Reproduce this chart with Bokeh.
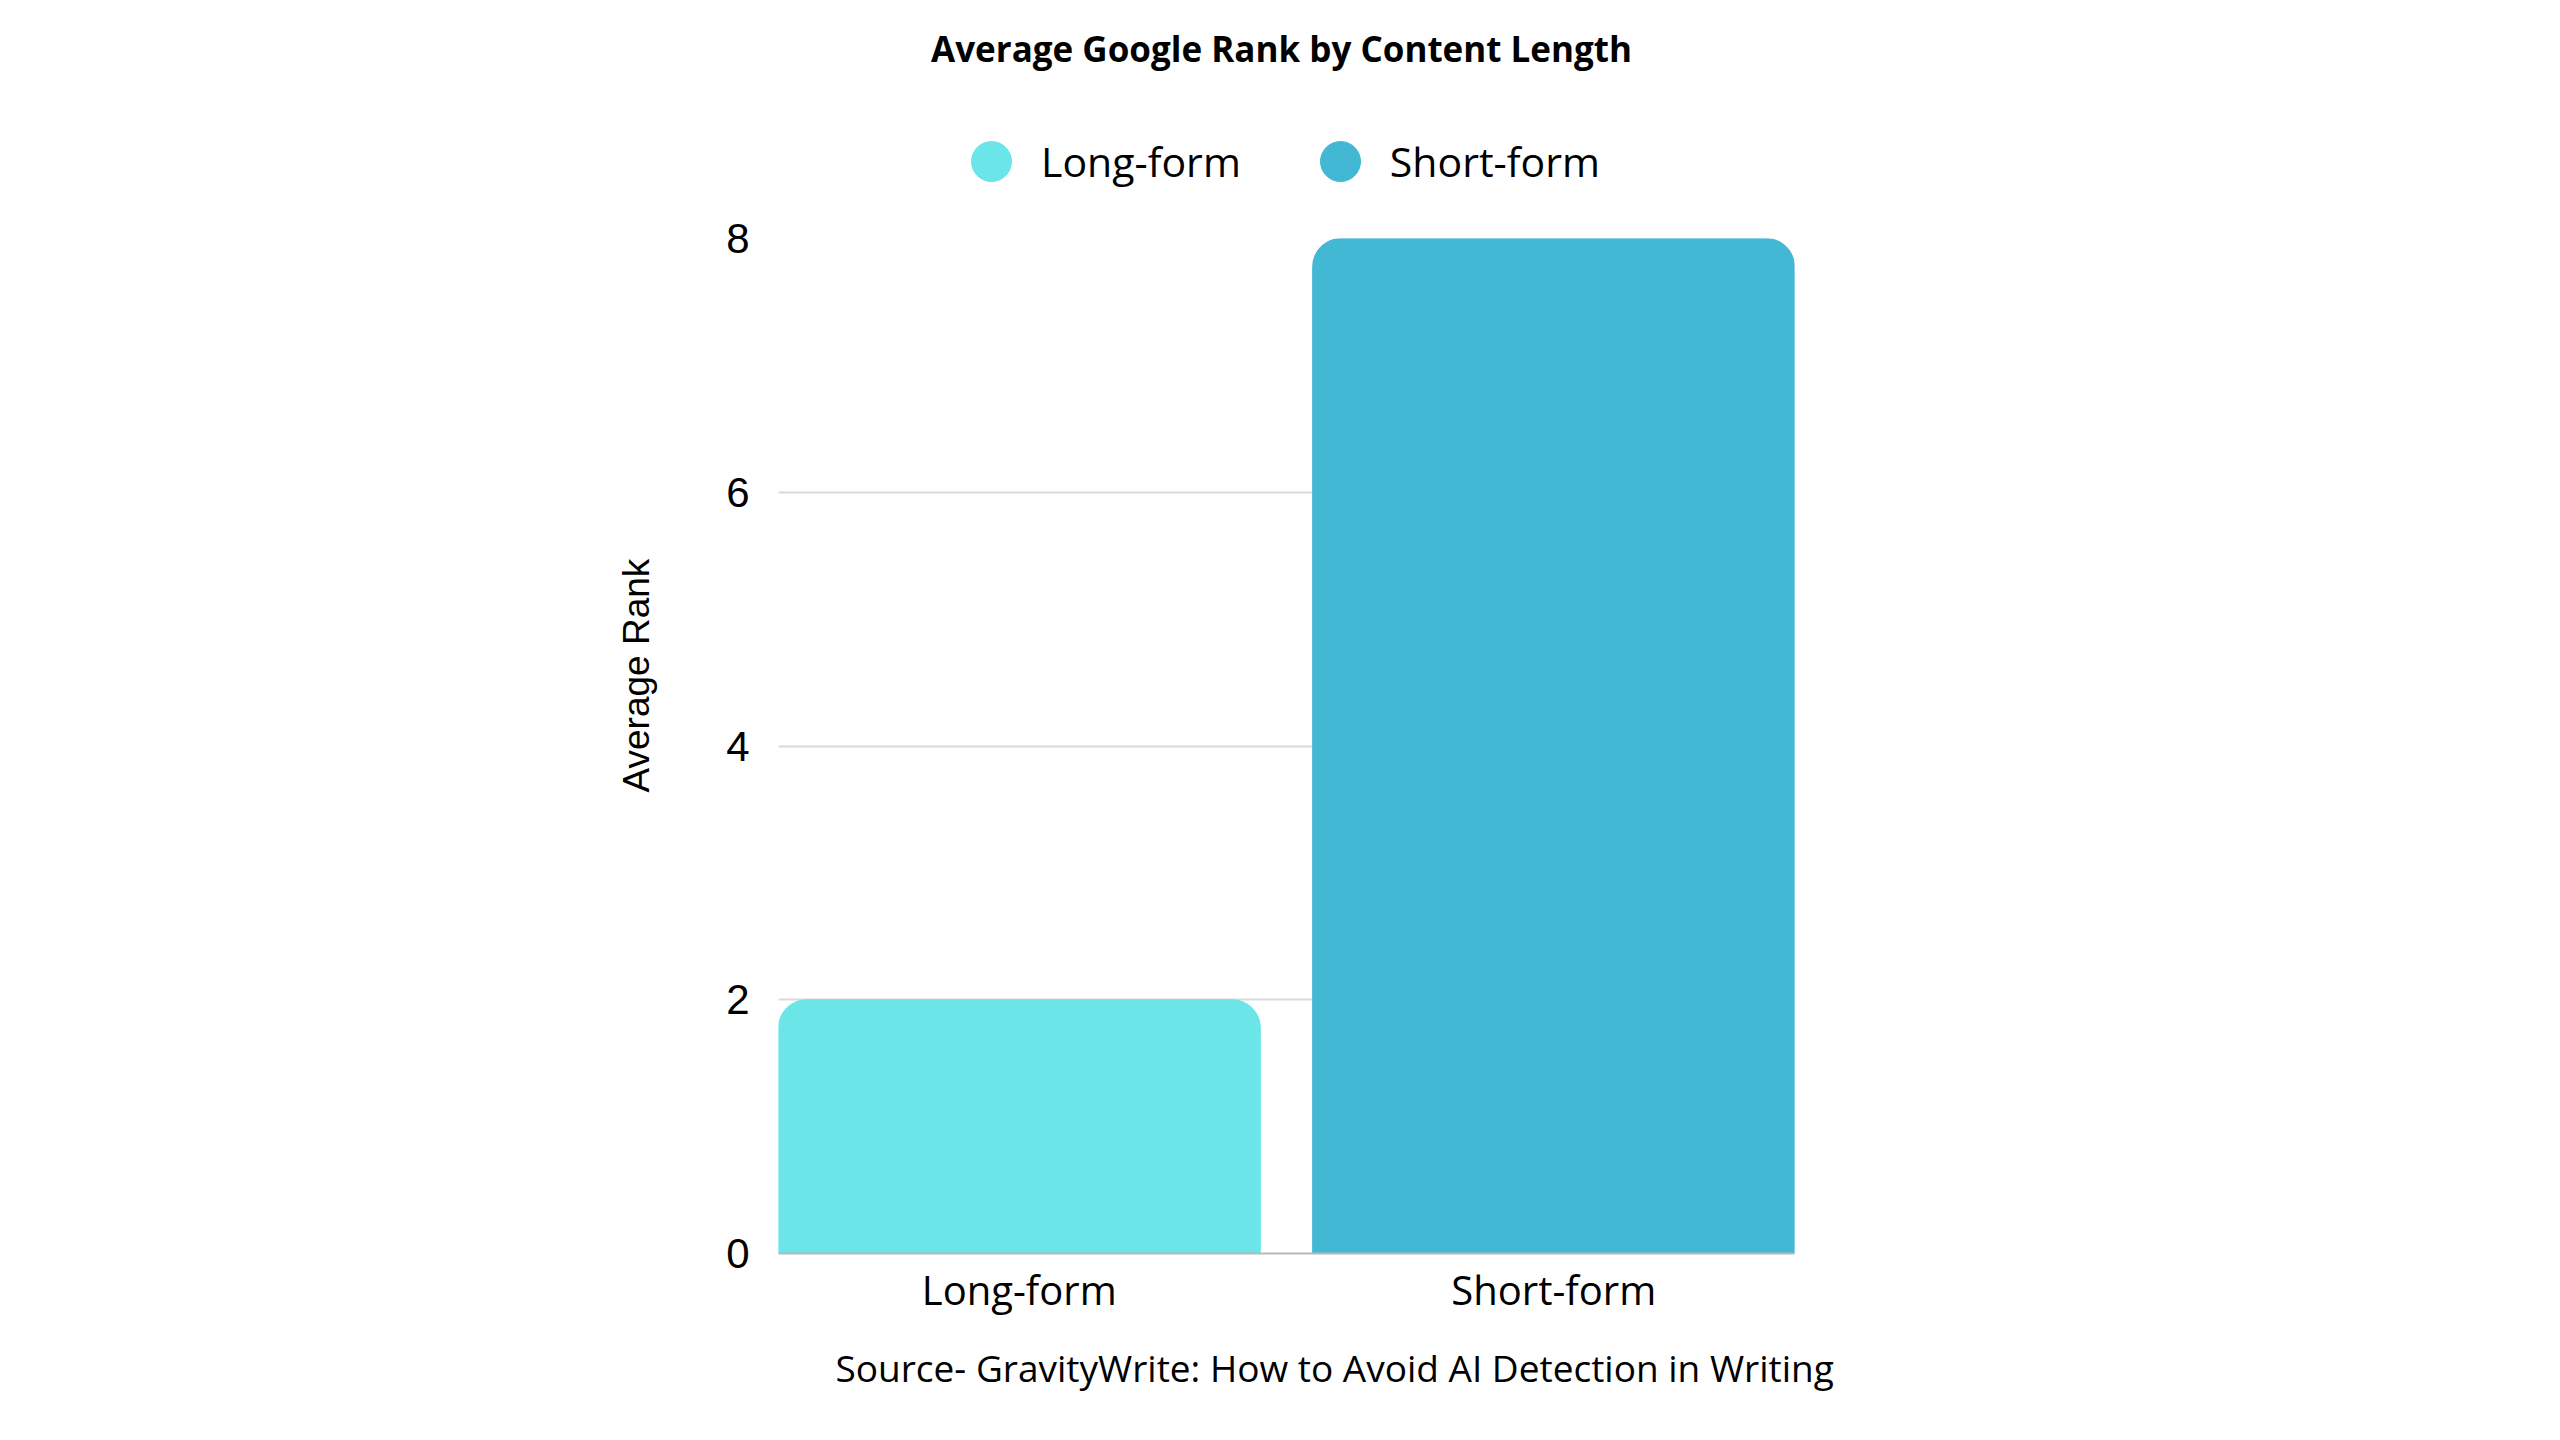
from bokeh.plotting import figure
from bokeh.layouts import column
from bokeh.models import (ColumnDataSource, FactorRange, Range1d, FixedTicker,
                          Legend, LegendItem, Label, Title)
from bokeh.embed import file_html
from bokeh.resources import INLINE

# ---- data ----
categories = ["Long-form", "Short-form"]
avg_rank = [2, 8]
bar_colors = ["#6BE5E8", "#42B8D5"]
y_ticks = [0, 2, 4, 6, 8]

title_text = "Average Google Rank by Content Length"
y_label = "Average Rank"
source_text = "Source- GravityWrite: How to Avoid AI Detection in Writing"

src = ColumnDataSource(dict(cat=categories, rank=avg_rank, color=bar_colors))

# ---------- header: title + legend (frame is aligned with the chart frame) ----------
header = figure(
    x_range=FactorRange(factors=categories),
    y_range=Range1d(min(y_ticks), max(y_ticks)),
    width=2544, height=212, min_border=0,
    x_axis_location=None, y_axis_location=None,
    output_backend="svg", toolbar_location=None,
)
header.outline_line_color = None
header.grid.grid_line_color = None
header.background_fill_color = "white"
header.border_fill_color = "white"

legend_r = header.scatter(x="cat", y="rank", size=40, color="color",
                          source=src, visible=False)

legend = Legend(
    items=[LegendItem(label=c, renderers=[legend_r], index=i)
           for i, c in enumerate(categories)],
    orientation="horizontal", location=(163, 1),
    glyph_width=100, glyph_height=100, label_standoff=-24, spacing=49,
    padding=0, margin=0, border_line_color=None, background_fill_alpha=0,
    label_text_font="Open Sans", label_text_font_size="41px",
    label_text_color="#000000",
)
header.add_layout(legend, "center")

header.add_layout(Label(text=title_text, x=503, y=164, x_units="screen",
                        y_units="screen", text_align="center",
                        text_baseline="middle", text_font="Open Sans",
                        text_font_size="35px", text_font_style="bold",
                        text_color="#000000"))

# ---------- main chart ----------
p = figure(
    x_range=FactorRange(factors=categories, range_padding=-0.0495,
                        range_padding_units="absolute"),
    y_range=Range1d(min(y_ticks), max(y_ticks)),
    width=2544, height=1212,
    min_border_left=778, min_border_right=750,
    min_border_top=26, min_border_bottom=171,
    output_backend="svg", toolbar_location=None,
)
p.background_fill_color = "white"
p.border_fill_color = "white"
p.outline_line_color = None

p.vbar(x="cat", top="rank", width=0.902, color="color", source=src,
       border_radius=(28, 28, 0, 0))

# y axis title as a side title
p.add_layout(Title(text=y_label, align="left", offset=461, standoff=134,
                   text_font="Liberation Sans", text_font_size="37px",
                   text_font_style="normal", text_color="#000000"), "left")

# source note
p.add_layout(Title(text=source_text, align="left", offset=57, standoff=44,
                   vertical_align="top", text_font="Open Sans",
                   text_font_size="37px", text_font_style="normal",
                   text_color="#000000"), "below")

# axes
p.yaxis.ticker = FixedTicker(ticks=y_ticks)
p.ygrid.ticker = FixedTicker(ticks=y_ticks)
p.yaxis.axis_line_color = None
p.yaxis.major_tick_line_color = None
p.yaxis.minor_tick_line_color = None
p.yaxis.major_label_text_font = "Liberation Sans"
p.yaxis.major_label_text_font_size = "42px"
p.yaxis.major_label_text_color = "#000000"
p.yaxis.major_label_standoff = 23

p.xaxis.major_tick_line_color = None
p.xaxis.minor_tick_line_color = None
p.xaxis.axis_line_color = "#b8b8b8"
p.xaxis.axis_line_width = 2
p.xaxis.major_label_text_font = "Open Sans"
p.xaxis.major_label_text_font_size = "40px"
p.xaxis.major_label_text_color = "#000000"
p.xaxis.major_label_standoff = 2

p.xgrid.grid_line_color = None
p.ygrid.grid_line_color = "#d9d9d9"
p.ygrid.grid_line_width = 2

layout = column(header, p, spacing=0)
open("out.html", "w").write(file_html(layout, INLINE))
